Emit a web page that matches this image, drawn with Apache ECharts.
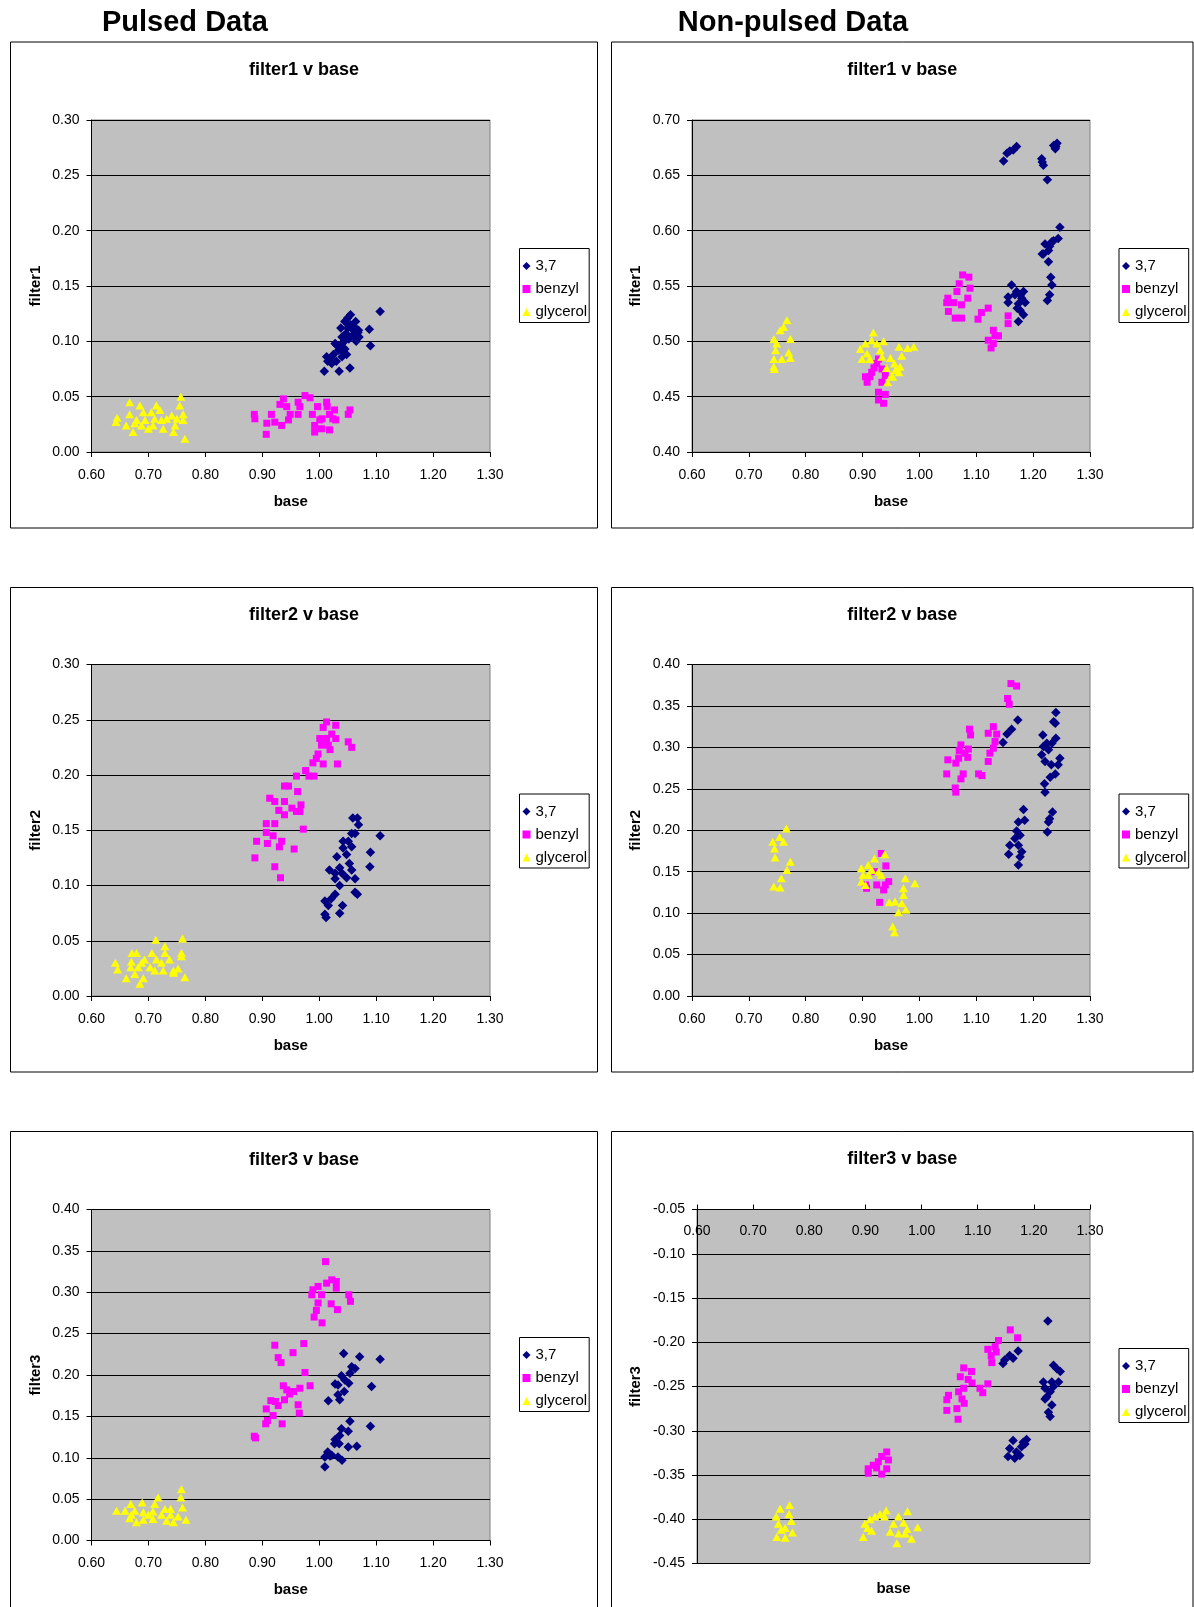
<!DOCTYPE html>
<html>
<head>
<meta charset="utf-8">
<title>Pulsed / Non-pulsed Data</title>
<script src="https://cdn.jsdelivr.net/npm/echarts@6/dist/echarts.min.js"></script>
<style>
  html, body { margin: 0; padding: 0; background: #fff; }
  #chart { width: 1194px; height: 1607px; }
</style>
</head>
<body>
<div id="chart"></div>
<script>
// ---- series names and tick labels ----
const seriesNames = ['3,7', 'benzyl', 'glycerol'];
const xTicks = [0.6, 0.7, 0.8, 0.9, 1.0, 1.1, 1.2, 1.3];

// ---- Pulsed: filter1 v base ----
const p1_37 = [[1.107,0.127],[1.090,0.096],[1.088,0.111],[1.055,0.124],[1.045,0.118],[1.064,0.118],[1.050,0.112],[1.060,0.110],[1.068,0.108],[1.058,0.105],[1.047,0.107],[1.040,0.104],[1.052,0.102],[1.065,0.100],[1.040,0.098],[1.035,0.095],[1.045,0.093],[1.030,0.097],[1.048,0.088],[1.040,0.086],[1.025,0.088],[1.020,0.085],[1.015,0.082],[1.022,0.080],[1.030,0.082],[1.009,0.073],[1.035,0.073],[1.054,0.076],[1.043,0.090],[1.055,0.115],[1.062,0.113],[1.038,0.112],[1.050,0.121],[1.044,0.100],[1.070,0.104],[1.013,0.086],[1.034,0.092],[1.028,0.098],[1.063,0.104],[1.069,0.110],[1.057,0.113]];
const p1_benzyl = [[0.886,0.034],[0.887,0.030],[0.908,0.026],[0.907,0.016],[0.916,0.034],[0.922,0.027],[0.934,0.024],[0.937,0.048],[0.931,0.043],[0.943,0.041],[0.946,0.029],[0.949,0.034],[0.963,0.034],[0.963,0.045],[0.966,0.041],[0.975,0.051],[0.984,0.049],[0.988,0.034],[0.997,0.041],[0.992,0.018],[0.992,0.024],[1.001,0.029],[1.004,0.021],[1.013,0.045],[1.014,0.041],[1.018,0.020],[1.018,0.034],[1.027,0.038],[1.024,0.030],[1.029,0.029],[1.051,0.034],[1.054,0.038],[1.005,0.030]];
const p1_glycerol = [[0.645,0.031],[0.643,0.027],[0.667,0.045],[0.667,0.034],[0.661,0.024],[0.673,0.018],[0.685,0.042],[0.679,0.029],[0.688,0.024],[0.691,0.036],[0.705,0.036],[0.714,0.042],[0.720,0.038],[0.708,0.024],[0.711,0.030],[0.726,0.021],[0.723,0.029],[0.732,0.030],[0.741,0.033],[0.744,0.018],[0.747,0.024],[0.750,0.030],[0.755,0.042],[0.757,0.050],[0.761,0.034],[0.761,0.029],[0.764,0.012],[0.676,0.026],[0.694,0.029],[0.700,0.021]];

// ---- Non-pulsed: filter1 v base ----
const p2_37 = [[1.148,0.663],[1.154,0.670],[1.159,0.672],[1.165,0.673],[1.171,0.676],[1.216,0.662],[1.218,0.659],[1.215,0.665],[1.225,0.646],[1.236,0.677],[1.242,0.679],[1.239,0.674],[1.240,0.676],[1.247,0.603],[1.244,0.593],[1.236,0.591],[1.233,0.590],[1.227,0.582],[1.221,0.588],[1.218,0.579],[1.216,0.579],[1.229,0.586],[1.227,0.572],[1.231,0.558],[1.233,0.551],[1.229,0.542],[1.225,0.537],[1.162,0.551],[1.156,0.540],[1.156,0.535],[1.168,0.542],[1.171,0.545],[1.183,0.545],[1.180,0.539],[1.186,0.535],[1.174,0.534],[1.177,0.528],[1.183,0.524],[1.174,0.518],[1.178,0.542],[1.172,0.530]];
const p2_benzyl = [[1.076,0.560],[1.087,0.558],[1.089,0.548],[1.070,0.552],[1.066,0.545],[1.050,0.539],[1.048,0.535],[1.060,0.535],[1.074,0.533],[1.085,0.539],[1.051,0.527],[1.063,0.521],[1.074,0.521],[1.103,0.520],[1.109,0.526],[1.121,0.530],[1.156,0.523],[1.156,0.516],[1.130,0.510],[1.133,0.505],[1.121,0.501],[1.126,0.494],[1.139,0.505],[1.130,0.498],[0.905,0.468],[0.908,0.463],[0.913,0.468],[0.916,0.472],[0.925,0.480],[0.928,0.484],[0.934,0.475],[0.940,0.469],[0.934,0.463],[0.928,0.454],[0.940,0.452],[0.937,0.444],[0.928,0.447],[0.920,0.476]];
const p2_glycerol = [[0.767,0.519],[0.761,0.513],[0.755,0.510],[0.744,0.502],[0.749,0.498],[0.747,0.492],[0.744,0.484],[0.745,0.475],[0.758,0.484],[0.773,0.502],[0.773,0.485],[0.770,0.490],[0.744,0.477],[0.919,0.508],[0.905,0.498],[0.896,0.493],[0.899,0.484],[0.908,0.489],[0.916,0.501],[0.925,0.498],[0.937,0.500],[0.931,0.492],[0.934,0.486],[0.913,0.484],[0.942,0.476],[0.949,0.485],[0.956,0.480],[0.944,0.463],[0.953,0.468],[0.964,0.495],[0.969,0.487],[0.966,0.477],[0.964,0.472],[0.979,0.494],[0.990,0.495],[0.958,0.474],[0.950,0.469]];

// ---- Pulsed: filter2 v base ----
const p3_37 = [[1.059,0.161],[1.067,0.161],[1.069,0.155],[1.063,0.147],[1.057,0.147],[1.107,0.145],[1.042,0.140],[1.051,0.140],[1.042,0.134],[1.057,0.135],[1.048,0.128],[1.090,0.130],[1.031,0.126],[1.053,0.120],[1.089,0.117],[1.018,0.114],[1.036,0.116],[1.028,0.111],[1.040,0.111],[1.057,0.114],[1.048,0.107],[1.028,0.106],[1.063,0.106],[1.036,0.100],[1.063,0.094],[1.067,0.092],[1.028,0.092],[1.021,0.088],[1.010,0.086],[1.016,0.082],[1.041,0.082],[1.010,0.074],[1.036,0.075],[1.012,0.071]];
const p3_benzyl = [[1.013,0.248],[1.007,0.243],[1.029,0.245],[1.022,0.237],[1.001,0.233],[1.013,0.233],[1.029,0.233],[1.051,0.230],[1.057,0.225],[1.004,0.227],[1.016,0.227],[1.019,0.223],[0.998,0.219],[0.995,0.215],[0.989,0.211],[1.007,0.210],[1.032,0.210],[0.976,0.204],[0.960,0.199],[0.982,0.199],[0.991,0.199],[0.939,0.190],[0.946,0.190],[0.962,0.185],[0.913,0.179],[0.922,0.176],[0.939,0.176],[0.968,0.173],[0.929,0.168],[0.952,0.170],[0.939,0.164],[0.960,0.167],[0.966,0.167],[0.907,0.156],[0.922,0.156],[0.972,0.151],[0.907,0.148],[0.919,0.145],[0.890,0.140],[0.909,0.138],[0.934,0.140],[0.930,0.135],[0.956,0.133],[0.887,0.125],[0.922,0.117],[0.932,0.107]];
const p3_glycerol = [[0.713,0.051],[0.760,0.052],[0.729,0.045],[0.671,0.039],[0.679,0.039],[0.706,0.039],[0.729,0.039],[0.758,0.039],[0.693,0.033],[0.714,0.033],[0.737,0.033],[0.758,0.036],[0.642,0.030],[0.670,0.031],[0.688,0.030],[0.723,0.030],[0.646,0.024],[0.669,0.026],[0.682,0.026],[0.711,0.023],[0.726,0.023],[0.744,0.023],[0.752,0.025],[0.676,0.020],[0.744,0.021],[0.661,0.016],[0.691,0.016],[0.685,0.011],[0.764,0.017],[0.703,0.026]];

// ---- Non-pulsed: filter2 v base ----
const p4_37 = [[1.240,0.342],[1.236,0.331],[1.239,0.329],[1.173,0.333],[1.162,0.322],[1.154,0.316],[1.147,0.306],[1.217,0.315],[1.240,0.311],[1.233,0.305],[1.224,0.305],[1.218,0.301],[1.227,0.297],[1.215,0.291],[1.247,0.287],[1.221,0.283],[1.232,0.279],[1.244,0.279],[1.239,0.268],[1.230,0.264],[1.220,0.256],[1.221,0.246],[1.234,0.222],[1.229,0.214],[1.227,0.210],[1.225,0.198],[1.183,0.225],[1.185,0.212],[1.174,0.210],[1.171,0.199],[1.177,0.194],[1.168,0.190],[1.159,0.182],[1.174,0.182],[1.180,0.174],[1.157,0.171],[1.177,0.168],[1.174,0.158]];
const p4_benzyl = [[1.161,0.377],[1.171,0.374],[1.155,0.359],[1.158,0.352],[1.088,0.322],[1.090,0.315],[1.130,0.325],[1.121,0.317],[1.136,0.316],[1.133,0.307],[1.130,0.299],[1.124,0.293],[1.121,0.283],[1.073,0.303],[1.086,0.298],[1.070,0.296],[1.080,0.293],[1.085,0.288],[1.050,0.285],[1.064,0.281],[1.069,0.287],[1.048,0.268],[1.077,0.268],[1.073,0.262],[1.104,0.268],[1.110,0.266],[1.063,0.251],[1.064,0.246],[0.933,0.172],[0.941,0.157],[0.922,0.150],[0.907,0.130],[0.930,0.113],[0.925,0.134],[0.940,0.134],[0.946,0.138],[0.937,0.128],[0.905,0.134]];
const p4_glycerol = [[0.766,0.202],[0.754,0.192],[0.742,0.186],[0.761,0.186],[0.745,0.178],[0.746,0.167],[0.773,0.162],[0.767,0.152],[0.757,0.142],[0.744,0.132],[0.755,0.131],[0.939,0.171],[0.921,0.166],[0.898,0.154],[0.910,0.158],[0.916,0.152],[0.928,0.150],[0.901,0.146],[0.910,0.146],[0.933,0.146],[0.898,0.138],[0.905,0.134],[0.975,0.142],[0.992,0.136],[0.972,0.130],[0.972,0.122],[0.947,0.113],[0.957,0.114],[0.969,0.112],[0.963,0.101],[0.976,0.104],[0.953,0.084],[0.956,0.077]];

// ---- Pulsed: filter3 v base ----
const p5_37 = [[1.043,0.226],[1.071,0.222],[1.107,0.219],[1.057,0.210],[1.063,0.208],[1.054,0.202],[1.039,0.199],[1.045,0.194],[1.052,0.190],[1.028,0.189],[1.033,0.188],[1.092,0.186],[1.044,0.180],[1.033,0.176],[1.036,0.170],[1.016,0.169],[1.054,0.144],[1.051,0.132],[1.039,0.135],[1.090,0.138],[1.036,0.127],[1.028,0.122],[1.027,0.117],[1.035,0.117],[1.051,0.113],[1.066,0.114],[1.015,0.107],[1.010,0.101],[1.022,0.103],[1.033,0.101],[1.040,0.097],[1.010,0.089],[1.019,0.102]];
const p5_benzyl = [[1.011,0.337],[1.022,0.315],[1.030,0.313],[1.013,0.311],[1.030,0.305],[0.998,0.307],[0.989,0.303],[0.987,0.297],[1.004,0.297],[1.052,0.297],[1.055,0.289],[0.998,0.287],[1.021,0.286],[0.995,0.278],[1.032,0.279],[0.991,0.270],[1.005,0.263],[0.922,0.236],[0.973,0.238],[0.928,0.221],[0.954,0.227],[0.933,0.215],[0.975,0.203],[0.984,0.187],[0.937,0.187],[0.943,0.182],[0.966,0.184],[0.955,0.180],[0.948,0.177],[0.915,0.169],[0.923,0.168],[0.939,0.170],[0.928,0.163],[0.963,0.164],[0.907,0.159],[0.965,0.154],[0.919,0.151],[0.909,0.145],[0.906,0.141],[0.935,0.141],[0.886,0.126],[0.888,0.124]];
const p5_glycerol = [[0.758,0.062],[0.757,0.052],[0.717,0.052],[0.669,0.044],[0.689,0.046],[0.644,0.036],[0.659,0.036],[0.676,0.036],[0.691,0.034],[0.711,0.044],[0.708,0.035],[0.729,0.038],[0.739,0.038],[0.760,0.040],[0.667,0.027],[0.679,0.022],[0.691,0.025],[0.708,0.026],[0.723,0.031],[0.732,0.024],[0.744,0.022],[0.752,0.029],[0.766,0.025],[0.670,0.031],[0.739,0.031],[0.700,0.031]];

// ---- Non-pulsed: filter3 v base ----
const p6_37 = [[1.225,-0.176],[1.172,-0.210],[1.157,-0.215],[1.163,-0.218],[1.148,-0.220],[1.145,-0.224],[1.235,-0.226],[1.241,-0.230],[1.247,-0.233],[1.217,-0.245],[1.244,-0.245],[1.232,-0.245],[1.220,-0.252],[1.235,-0.250],[1.229,-0.256],[1.220,-0.264],[1.232,-0.271],[1.226,-0.279],[1.229,-0.284],[1.223,-0.262],[1.187,-0.310],[1.181,-0.313],[1.163,-0.311],[1.178,-0.318],[1.157,-0.320],[1.169,-0.324],[1.154,-0.329],[1.166,-0.331],[1.175,-0.328],[1.184,-0.315]];
const p6_benzyl = [[1.158,-0.186],[1.171,-0.195],[1.137,-0.198],[1.131,-0.205],[1.118,-0.208],[1.124,-0.215],[1.133,-0.211],[1.125,-0.223],[1.075,-0.229],[1.089,-0.233],[1.069,-0.239],[1.083,-0.242],[1.090,-0.246],[1.118,-0.247],[1.104,-0.252],[1.109,-0.257],[1.075,-0.252],[1.066,-0.256],[1.048,-0.260],[1.045,-0.265],[1.072,-0.264],[1.076,-0.269],[1.063,-0.275],[1.045,-0.277],[1.065,-0.287],[0.938,-0.324],[0.929,-0.329],[0.941,-0.333],[0.923,-0.335],[0.914,-0.339],[0.905,-0.343],[0.905,-0.348],[0.929,-0.349],[0.938,-0.343],[0.920,-0.342]];
const p6_glycerol = [[0.765,-0.384],[0.748,-0.388],[0.741,-0.397],[0.764,-0.394],[0.768,-0.402],[0.745,-0.405],[0.757,-0.410],[0.770,-0.415],[0.742,-0.420],[0.757,-0.421],[0.750,-0.412],[0.937,-0.390],[0.926,-0.394],[0.917,-0.397],[0.908,-0.400],[0.899,-0.405],[0.904,-0.410],[0.896,-0.420],[0.911,-0.413],[0.934,-0.397],[0.975,-0.391],[0.959,-0.397],[0.950,-0.405],[0.968,-0.404],[0.993,-0.409],[0.944,-0.414],[0.959,-0.416],[0.971,-0.416],[0.982,-0.422],[0.956,-0.427],[0.974,-0.411]];

// ---- axis ranges ----
const yRanges = [[0, 0.30], [0.40, 0.70], [0, 0.30], [0, 0.40], [0, 0.40], [-0.45, -0.05]];
const xRange = [0.6, 1.3];

// ---- layout of the six panels ----
const FONT = '"Liberation Sans", Arial, Helvetica, sans-serif';
const COLORS = ['#000080', '#FF00FF', '#FFFF00'];
const SYMBOLS = ['diamond', 'rect', 'triangle'];
const SIZES = [9.5, 7, [9, 8]];

const panels = [
  { title: 'filter1 v base', yName: 'filter1', data: [p1_37, p1_benzyl, p1_glycerol],
    grid: { left: 91.5, top: 120, width: 398.5, height: 332 }, box: [10.5, 42, 587, 486], titleY: 70.5, legend: [519.5, 248.5] },
  { title: 'filter1 v base', yName: 'filter1', data: [p2_37, p2_benzyl, p2_glycerol],
    grid: { left: 692, top: 120, width: 398, height: 332 }, box: [611.5, 42, 581.5, 486], titleY: 70.5, legend: [1119, 248.5] },
  { title: 'filter2 v base', yName: 'filter2', data: [p3_37, p3_benzyl, p3_glycerol],
    grid: { left: 91.5, top: 664.5, width: 398.5, height: 331.5 }, box: [10.5, 587.5, 587, 484.5], titleY: 615, legend: [519.5, 794] },
  { title: 'filter2 v base', yName: 'filter2', data: [p4_37, p4_benzyl, p4_glycerol],
    grid: { left: 692, top: 664.5, width: 398, height: 331.5 }, box: [611.5, 587.5, 581.5, 484.5], titleY: 615, legend: [1119, 794] },
  { title: 'filter3 v base', yName: 'filter3', data: [p5_37, p5_benzyl, p5_glycerol],
    grid: { left: 91.5, top: 1209.5, width: 398.5, height: 331 }, box: [10.5, 1131.5, 587, 500], titleY: 1160, legend: [519.5, 1337.5] },
  { title: 'filter3 v base', yName: 'filter3', data: [p6_37, p6_benzyl, p6_glycerol],
    grid: { left: 697, top: 1209.5, width: 393, height: 354 }, box: [611.5, 1131.5, 581.5, 500], titleY: 1159, legend: [1119, 1348.5], xTop: true }
];

const fmt = v => Number(v).toFixed(2);

const grids = [], xAxes = [], yAxes = [], series = [], legends = [];
const graphics = [
  { type: 'text', x: 185, y: 23, z: 10,
    style: { text: 'Pulsed Data', font: 'bold 29px ' + FONT, fill: '#000', textAlign: 'center', textVerticalAlign: 'middle' } },
  { type: 'text', x: 793, y: 23, z: 10,
    style: { text: 'Non-pulsed Data', font: 'bold 29px ' + FONT, fill: '#000', textAlign: 'center', textVerticalAlign: 'middle' } }
];

panels.forEach((p, i) => {
  grids.push(Object.assign({
    show: true, backgroundColor: '#C0C0C0', borderColor: '#808080', borderWidth: 1,
    containLabel: false, outerBoundsMode: 'none'
  }, p.grid));

  xAxes.push({
    type: 'value', gridIndex: i, min: xRange[0], max: xRange[1], interval: 0.1,
    position: p.xTop ? 'top' : 'bottom',
    name: p.xTop ? '' : 'base', nameLocation: 'middle', nameGap: 42,
    nameTextStyle: { fontFamily: FONT, fontSize: 15, fontWeight: 'bold', color: '#000' },
    axisLine: { show: true, onZero: false, lineStyle: { color: '#000', width: 1 } },
    axisTick: { show: true, inside: false, length: 5, lineStyle: { color: '#000' } },
    axisLabel: { show: true, inside: !!p.xTop, margin: p.xTop ? 15 : 16, formatter: fmt,
      fontFamily: FONT, fontSize: 14, color: '#000', showMinLabel: true, showMaxLabel: true },
    splitLine: { show: false }
  });

  yAxes.push({
    type: 'value', gridIndex: i, min: yRanges[i][0], max: yRanges[i][1], interval: 0.05,
    name: p.yName, nameLocation: 'middle', nameGap: p.xTop ? 54 : (p.grid.left > 600 ? 49 : 48),
    nameTextStyle: { fontFamily: FONT, fontSize: 15, fontWeight: 'bold', color: '#000' },
    axisLine: { show: true, onZero: false, lineStyle: { color: '#000', width: 1 } },
    axisTick: { show: true, length: 5, lineStyle: { color: '#000' } },
    axisLabel: { margin: 12, formatter: fmt, fontFamily: FONT, fontSize: 14, color: '#000',
      showMinLabel: true, showMaxLabel: true },
    splitLine: { show: true, lineStyle: { color: '#000', width: 1 } }
  });

  p.data.forEach((d, k) => {
    series.push({
      type: 'scatter', name: seriesNames[k], xAxisIndex: i, yAxisIndex: i,
      data: d, symbol: SYMBOLS[k], symbolSize: SIZES[k],
      itemStyle: { color: COLORS[k], opacity: 1 },
      emphasis: { disabled: true }, z: 2 + k
    });
  });

  legends.push({
    left: p.legend[0], top: p.legend[1], orient: 'vertical',
    backgroundColor: '#fff', borderColor: '#000', borderWidth: 1, borderRadius: 0,
    padding: [10, 2, 3, 3], itemGap: 8, itemWidth: 8, itemHeight: 8,
    selectedMode: false,
    textStyle: { fontFamily: FONT, fontSize: 15, color: '#000', lineHeight: 15 },
    data: seriesNames.map((n, k) => ({ name: n, icon: SYMBOLS[k] }))
  });

  graphics.push({
    type: 'rect', z: -1, silent: true,
    shape: { x: p.box[0], y: p.box[1], width: p.box[2], height: p.box[3] },
    style: { fill: '#fff', stroke: '#000', lineWidth: 1 }
  });
  graphics.push({
    type: 'text', x: p.box[0] + p.box[2] / 2, y: p.titleY, z: 10,
    style: { text: p.title, font: 'bold 18px ' + FONT, fill: '#000', textAlign: 'center', textVerticalAlign: 'middle' }
  });
});

// the last panel's x axis sits at the top; its name stays below the plot
xAxes.push({
  type: 'value', gridIndex: 5, min: xRange[0], max: xRange[1], position: 'bottom',
  name: 'base', nameLocation: 'middle', nameGap: 18,
  nameTextStyle: { fontFamily: FONT, fontSize: 15, fontWeight: 'bold', color: '#000' },
  axisLine: { show: false }, axisTick: { show: false }, axisLabel: { show: false }, splitLine: { show: false }
});

const chart = echarts.init(document.getElementById('chart'), null, { renderer: 'canvas' });
chart.setOption({
  animation: false,
  backgroundColor: '#fff',
  textStyle: { fontFamily: FONT },
  grid: grids,
  xAxis: xAxes,
  yAxis: yAxes,
  legend: legends,
  series: series,
  graphic: { elements: graphics }
});
</script>
</body>
</html>
